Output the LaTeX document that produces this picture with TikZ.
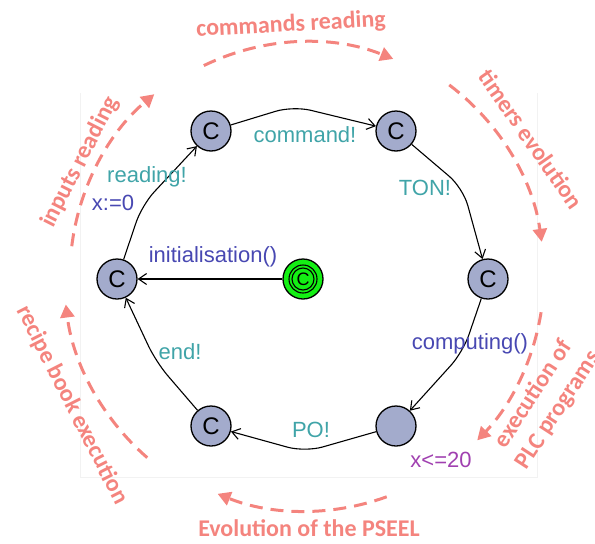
\documentclass[tikz,border=0pt]{standalone}
\usepackage{fontspec}
\setmainfont{Liberation Sans}
\newfontfamily\notefont{Carlito}
\usetikzlibrary{arrows.meta}
\definecolor{statefill}{RGB}{163,171,204}
\definecolor{initgreen}{RGB}{20,240,20}
\definecolor{synccol}{RGB}{64,164,168}
\definecolor{updcol}{RGB}{72,72,178}
\definecolor{invcol}{RGB}{160,64,176}
\definecolor{phasecol}{RGB}{244,132,126}
\begin{document}
\begin{tikzpicture}[x=1pt,y=-1pt,
  state/.style={circle,draw=black,line width=1.3pt,fill=statefill,minimum size=40pt,inner sep=0pt,font=\fontsize{24}{24}\selectfont},
  edge/.style={draw=black,line width=1.1pt,rounded corners=18pt,-{Straight Barb[length=8pt,width=11pt,line width=1.1pt]}},
  lbl/.style={inner sep=0pt,font=\fontsize{22}{26}\selectfont},
  phase/.style={draw=phasecol,line width=3pt,dash pattern=on 13pt off 8pt,-{Triangle[length=13pt,width=14pt]}},
  phasetxt/.style={text=phasecol,inner sep=0pt,align=center,font=\notefont\bfseries\fontsize{24}{29}\selectfont}]
\useasboundingbox (0,0) rectangle (595,544);
% faint frame of the automaton panel
\draw[black!5,line width=0.6pt] (80,93) -- (80,477) -- (537,477) -- (537,93);

% locations
\node[state] (C1) at (211,131) {C};
\node[state] (C2) at (396,131) {C};
\node[state] (C3) at (488,279) {C};
\node[state] (BR) at (396,426) {};
\node[state] (B)  at (211,426) {C};
\node[state] (L)  at (117,279) {C};

% initial committed location
\node[circle,draw=black,line width=1.3pt,fill=initgreen,minimum size=40pt,inner sep=0pt] (I) at (303,279) {};
\draw[line width=1.1pt] (I.center) circle[radius=14pt];
\draw[line width=1.1pt] (I.center) circle[radius=11pt];
\node[font=\fontsize{18}{18}\selectfont,inner sep=0pt] (Ic) at (I.center) {C};

% nails of the transitions
\coordinate (b1) at (142,205);
\coordinate (b2) at (293,106);
\coordinate (b3) at (463,188);
\coordinate (b4) at (463,352);
\coordinate (b5) at (305,452);
\coordinate (b6) at (156,362);

% transitions
\draw[edge] (I) -- (L);
\draw[edge] (L) -- (b1) -- (C1);
\draw[edge] (C1) -- (b2) -- (C2);
\draw[edge] (C2) -- (b3) -- (C3);
\draw[edge] (C3) -- (b4) -- (BR);
\draw[edge] (BR) -- (b5) -- (B);
\draw[edge] (B) -- (b6) -- (L);

% transition labels
\node[lbl,text=updcol]  (tinit) at (213,257) {initialisation()};
\node[lbl,text=synccol] (tread) at (147,177) {reading!};
\node[lbl,text=updcol]  (tx)    at (113,203) {x:=0};
\node[lbl,text=synccol] (tcmd)  at (305,135) {command!};
\node[lbl,text=synccol] (tton)  at (425,188) {TON!};
\node[lbl,text=updcol]  (tcomp) at (470,344) {computing()};
\node[lbl,text=synccol] (tpo)   at (311,430) {PO!};
\node[lbl,text=synccol] (tend)  at (180,352) {end!};
\node[lbl,text=invcol]  (tinv)  at (441,460) {x<=20};

% phases of the cycle
\coordinate (O) at (306,275);
\draw[phase] (O) ++(116:233pt) arc[start angle=116,end angle=68,radius=233pt];
\draw[phase] (O) ++(53:238pt) arc[start angle=53,end angle=8,radius=238pt];
\draw[phase] (O) ++(-9:238pt) arc[start angle=-9,end angle=-44,radius=238pt];
\draw[phase] (O) ++(-70:236pt) arc[start angle=-70,end angle=-112,radius=236pt];
\draw[phase] (O) ++(229:242pt) arc[start angle=229,end angle=187,radius=242pt];
\draw[phase] (O) ++(173:236pt) arc[start angle=173,end angle=130,radius=236pt];

\node[phasetxt,rotate=3]   (pcmd)  at (291,25)  {commands reading};
\node[phasetxt,rotate=-55] (ptim)  at (531,139) {timers evolution};
\node[phasetxt,rotate=57]  (pplc)  at (546,402) {execution of\\PLC programs};
\node[phasetxt]            (pevo)  at (309,528) {Evolution of the PSEEL};
\node[phasetxt,rotate=-63] (prec)  at (72,405)  {recipe book execution};
\node[phasetxt,rotate=63]  (pinp)  at (80,162)  {inputs reading};
\end{tikzpicture}
\end{document}
